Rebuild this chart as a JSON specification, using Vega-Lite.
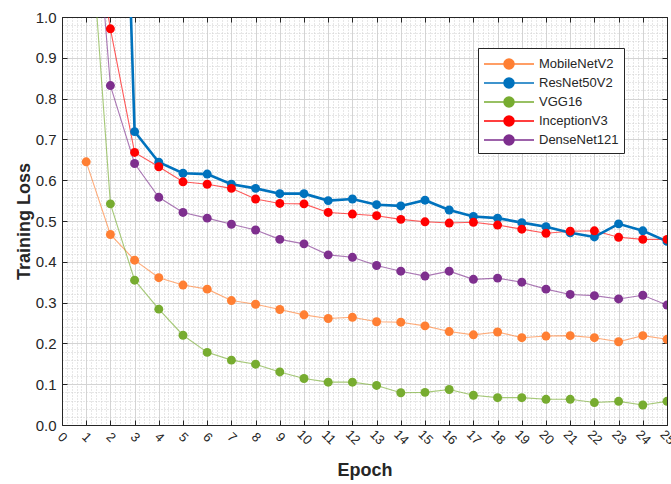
{
  "$schema": "https://vega.github.io/schema/vega-lite/v6.json",
  "width": 605,
  "height": 408,
  "autosize": {"type": "none"},
  "padding": {"left": 62, "top": 17, "right": 4, "bottom": 59},
  "config": {
    "font": "Liberation Sans",
    "view": {"stroke": "#262626", "strokeWidth": 1},
    "axis": {"domainColor": "#262626", "tickColor": "#262626", "labelColor": "#262626", "titleColor": "#262626"}
  },
  "data": {
    "values": [
      {"epoch": 1, "MobileNetV2": 0.645, "ResNet50V2": null, "VGG16": 1.37, "InceptionV3": 1.33, "DenseNet121": 1.56},
      {"epoch": 2, "MobileNetV2": 0.467, "ResNet50V2": 2.6, "VGG16": 0.542, "InceptionV3": 0.971, "DenseNet121": 0.832},
      {"epoch": 3, "MobileNetV2": 0.404, "ResNet50V2": 0.719, "VGG16": 0.355, "InceptionV3": 0.668, "DenseNet121": 0.641},
      {"epoch": 4, "MobileNetV2": 0.361, "ResNet50V2": 0.644, "VGG16": 0.284, "InceptionV3": 0.633, "DenseNet121": 0.558},
      {"epoch": 5, "MobileNetV2": 0.343, "ResNet50V2": 0.617, "VGG16": 0.22, "InceptionV3": 0.596, "DenseNet121": 0.521},
      {"epoch": 6, "MobileNetV2": 0.333, "ResNet50V2": 0.615, "VGG16": 0.178, "InceptionV3": 0.59, "DenseNet121": 0.507},
      {"epoch": 7, "MobileNetV2": 0.305, "ResNet50V2": 0.59, "VGG16": 0.159, "InceptionV3": 0.58, "DenseNet121": 0.492},
      {"epoch": 8, "MobileNetV2": 0.296, "ResNet50V2": 0.58, "VGG16": 0.149, "InceptionV3": 0.554, "DenseNet121": 0.478},
      {"epoch": 9, "MobileNetV2": 0.283, "ResNet50V2": 0.567, "VGG16": 0.13, "InceptionV3": 0.543, "DenseNet121": 0.455},
      {"epoch": 10, "MobileNetV2": 0.27, "ResNet50V2": 0.567, "VGG16": 0.114, "InceptionV3": 0.542, "DenseNet121": 0.444},
      {"epoch": 11, "MobileNetV2": 0.261, "ResNet50V2": 0.55, "VGG16": 0.105, "InceptionV3": 0.521, "DenseNet121": 0.417},
      {"epoch": 12, "MobileNetV2": 0.264, "ResNet50V2": 0.554, "VGG16": 0.105, "InceptionV3": 0.517, "DenseNet121": 0.411},
      {"epoch": 13, "MobileNetV2": 0.253, "ResNet50V2": 0.54, "VGG16": 0.097, "InceptionV3": 0.513, "DenseNet121": 0.391},
      {"epoch": 14, "MobileNetV2": 0.252, "ResNet50V2": 0.537, "VGG16": 0.079, "InceptionV3": 0.504, "DenseNet121": 0.377},
      {"epoch": 15, "MobileNetV2": 0.243, "ResNet50V2": 0.551, "VGG16": 0.08, "InceptionV3": 0.498, "DenseNet121": 0.365},
      {"epoch": 16, "MobileNetV2": 0.229, "ResNet50V2": 0.527, "VGG16": 0.087, "InceptionV3": 0.495, "DenseNet121": 0.377},
      {"epoch": 17, "MobileNetV2": 0.221, "ResNet50V2": 0.511, "VGG16": 0.073, "InceptionV3": 0.497, "DenseNet121": 0.357},
      {"epoch": 18, "MobileNetV2": 0.228, "ResNet50V2": 0.507, "VGG16": 0.067, "InceptionV3": 0.49, "DenseNet121": 0.36},
      {"epoch": 19, "MobileNetV2": 0.214, "ResNet50V2": 0.496, "VGG16": 0.067, "InceptionV3": 0.48, "DenseNet121": 0.35},
      {"epoch": 20, "MobileNetV2": 0.218, "ResNet50V2": 0.486, "VGG16": 0.063, "InceptionV3": 0.47, "DenseNet121": 0.333},
      {"epoch": 21, "MobileNetV2": 0.219, "ResNet50V2": 0.471, "VGG16": 0.063, "InceptionV3": 0.475, "DenseNet121": 0.32},
      {"epoch": 22, "MobileNetV2": 0.214, "ResNet50V2": 0.461, "VGG16": 0.055, "InceptionV3": 0.476, "DenseNet121": 0.317},
      {"epoch": 23, "MobileNetV2": 0.204, "ResNet50V2": 0.493, "VGG16": 0.058, "InceptionV3": 0.46, "DenseNet121": 0.309},
      {"epoch": 24, "MobileNetV2": 0.219, "ResNet50V2": 0.476, "VGG16": 0.049, "InceptionV3": 0.455, "DenseNet121": 0.318},
      {"epoch": 25, "MobileNetV2": 0.21, "ResNet50V2": 0.45, "VGG16": 0.058, "InceptionV3": 0.455, "DenseNet121": 0.294}
    ]
  },
  "transform": [
    {"fold": ["MobileNetV2", "ResNet50V2", "VGG16", "InceptionV3", "DenseNet121"], "as": ["model", "loss"]},
    {"filter": "datum.loss != null"}
  ],
  "resolve": {"axis": {"x": "independent", "y": "independent"}},
  "layer": [
    {
      "mark": {"type": "line", "clip": true},
      "encoding": {
        "x": {
          "field": "epoch", "type": "quantitative",
          "scale": {"domain": [0, 25], "nice": false},
          "axis": {
            "orient": "bottom", "title": "Epoch",
            "values": [0,1,2,3,4,5,6,7,8,9,10,11,12,13,14,15,16,17,18,19,20,21,22,23,24,25],
            "grid": true, "gridColor": "#d4d4d4", "gridWidth": 1,
            "tickSize": -5, "labelAngle": 45, "labelAlign": "center", "labelBaseline": "middle",
            "labelPadding": 17, "labelFontSize": 13, "labelFlush": false, "labelOverlap": false,
            "titleFontSize": 18, "titleFontWeight": "bold", "titlePadding": 14
          }
        },
        "y": {
          "field": "loss", "type": "quantitative",
          "scale": {"domain": [0, 1], "nice": false},
          "axis": {
            "orient": "left", "title": "Training  Loss",
            "values": [0,0.1,0.2,0.3,0.4,0.5,0.6,0.7,0.8,0.9,1],
            "grid": true, "gridColor": "#d4d4d4", "gridWidth": 1,
            "tickSize": -5, "labelPadding": 11, "labelFontSize": 15,
            "titleFontSize": 18, "titleFontWeight": "bold", "titlePadding": 2
          }
        },
        "color": {
          "field": "model", "type": "nominal",
          "scale": {
            "domain": ["MobileNetV2", "ResNet50V2", "VGG16", "InceptionV3", "DenseNet121"],
            "range": ["#FF7F33", "#0072BD", "#77AC30", "#FF0000", "#7E2F8E"]
          },
          "legend": {
            "title": null, "orient": "none", "legendX": 416, "legendY": 31,
            "strokeColor": "#262626", "fillColor": "white", "padding": 5,
            "symbolType": "M-2.5,0H2.5M0.5,0A0.5,0.5,0,1,1,-0.5,0A0.5,0.5,0,1,1,0.5,0",
            "symbolSize": 400, "symbolStrokeWidth": 1.5, "symbolOffset": 15,
            "labelOffset": 19, "labelFontSize": 13, "labelColor": "#262626", "rowPadding": -1
          }
        },
        "strokeWidth": {"condition": {"test": "datum.model === 'ResNet50V2'", "value": 2.6}, "value": 1.1},
        "opacity": {"condition": {"test": "datum.model === 'ResNet50V2'", "value": 1}, "value": 0.65}
      }
    },
    {
      "mark": {"type": "point", "filled": true, "size": 80, "opacity": 1, "clip": true},
      "encoding": {
        "x": {
          "field": "epoch", "type": "quantitative",
          "axis": {
            "orient": "top", "title": null, "labels": false, "grid": false, "tickSize": -5,
            "values": [0,1,2,3,4,5,6,7,8,9,10,11,12,13,14,15,16,17,18,19,20,21,22,23,24,25]
          }
        },
        "y": {
          "field": "loss", "type": "quantitative",
          "axis": {
            "orient": "right", "title": null, "labels": false, "grid": false, "tickSize": -5,
            "values": [0,0.1,0.2,0.3,0.4,0.5,0.6,0.7,0.8,0.9,1]
          }
        },
        "color": {"field": "model", "type": "nominal"}
      }
    },
    {
      "transform": [{"filter": "false"}],
      "mark": {"type": "point", "clip": true},
      "encoding": {
        "x": {
          "field": "epoch", "type": "quantitative",
          "axis": {
            "orient": "bottom", "title": null, "labels": false, "ticks": false, "domain": false,
            "grid": true, "gridColor": "#cfcfcf", "gridDash": [1, 2], "values": [0.2,0.4,0.6,0.8,1.2,1.4,1.6,1.8,2.2,2.4,2.6,2.8,3.2,3.4,3.6,3.8,4.2,4.4,4.6,4.8,5.2,5.4,5.6,5.8,6.2,6.4,6.6,6.8,7.2,7.4,7.6,7.8,8.2,8.4,8.6,8.8,9.2,9.4,9.6,9.8,10.2,10.4,10.6,10.8,11.2,11.4,11.6,11.8,12.2,12.4,12.6,12.8,13.2,13.4,13.6,13.8,14.2,14.4,14.6,14.8,15.2,15.4,15.6,15.8,16.2,16.4,16.6,16.8,17.2,17.4,17.6,17.8,18.2,18.4,18.6,18.8,19.2,19.4,19.6,19.8,20.2,20.4,20.6,20.8,21.2,21.4,21.6,21.8,22.2,22.4,22.6,22.8,23.2,23.4,23.6,23.8,24.2,24.4,24.6,24.8]
          }
        },
        "y": {
          "field": "loss", "type": "quantitative",
          "axis": {
            "orient": "left", "title": null, "labels": false, "ticks": false, "domain": false,
            "grid": true, "gridColor": "#cfcfcf", "gridDash": [1, 2],
            "values": [0.02,0.04,0.06,0.08,0.12,0.14,0.16,0.18,0.22,0.24,0.26,0.28,0.32,0.34,0.36,0.38,0.42,0.44,0.46,0.48,0.52,0.54,0.56,0.58,0.62,0.64,0.66,0.68,0.72,0.74,0.76,0.78,0.82,0.84,0.86,0.88,0.92,0.94,0.96,0.98]
          }
        }
      }
    }
  ]
}
